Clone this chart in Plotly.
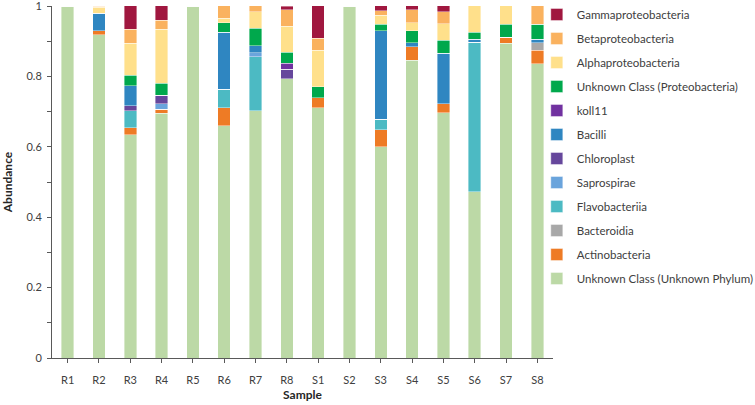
import plotly.graph_objects as go

samples = ["R1", "R2", "R3", "R4", "R5", "R6", "R7", "R8",
           "S1", "S2", "S3", "S4", "S5", "S6", "S7", "S8"]

# stacking order bottom -> top
unknown_phylum = [1.000, 0.918, 0.634, 0.695, 1.000, 0.660, 0.702, 0.793, 0.711, 1.000, 0.600, 0.846, 0.697, 0.472, 0.894, 0.836]
actinobacteria = [0, 0.012, 0.020, 0.012, 0, 0.051, 0, 0, 0.029, 0, 0.049, 0.038, 0.025, 0, 0.017, 0.039]
bacteroidia    = [0, 0, 0, 0, 0, 0, 0, 0, 0, 0, 0, 0, 0, 0, 0, 0.020]
flavobacteriia = [0, 0, 0.048, 0, 0, 0.052, 0.154, 0, 0, 0, 0.029, 0, 0, 0.425, 0, 0]
saprospirae    = [0, 0, 0, 0.015, 0, 0, 0.011, 0, 0, 0, 0, 0, 0, 0, 0, 0]
chloroplast    = [0, 0, 0.014, 0.024, 0, 0, 0, 0.027, 0, 0, 0, 0, 0, 0, 0, 0]
bacilli        = [0, 0.050, 0.057, 0, 0, 0.162, 0.020, 0, 0, 0, 0.251, 0.012, 0.144, 0.009, 0, 0.011]
koll11         = [0, 0, 0, 0, 0, 0, 0, 0.017, 0, 0, 0, 0, 0, 0, 0, 0]
unknown_proteo = [0, 0, 0.030, 0.035, 0, 0.027, 0.050, 0.031, 0.031, 0, 0.019, 0.033, 0.037, 0.019, 0.037, 0.042]
alpha          = [0, 0.017, 0.091, 0.153, 0, 0.013, 0.047, 0.075, 0.104, 0, 0.026, 0.023, 0.046, 0.077, 0.054, 0]
beta           = [0, 0.003, 0.040, 0.026, 0, 0.037, 0.017, 0.047, 0.033, 0, 0.012, 0.038, 0.035, 0, 0, 0.054]
gamma          = [0, 0, 0.068, 0.041, 0, 0, 0, 0.010, 0.093, 0, 0.015, 0.012, 0.018, 0, 0, 0]

y_ticks = [0, 0.2, 0.4, 0.6, 0.8, 1]
y_tick_labels = ["0", "0.2", "0.4", "0.6", "0.8", "1"]

series = [
    ("Unknown Class (Unknown Phylum)", unknown_phylum, "#bcd9a6"),
    ("Actinobacteria", actinobacteria, "#ee7b25"),
    ("Bacteroidia", bacteroidia, "#a8a8a8"),
    ("Flavobacteriia", flavobacteriia, "#4cbac3"),
    ("Saprospirae", saprospirae, "#6aa4dc"),
    ("Chloroplast", chloroplast, "#66479c"),
    ("Bacilli", bacilli, "#2f86c1"),
    ("koll11", koll11, "#7131a0"),
    ("Unknown Class (Proteobacteria)", unknown_proteo, "#00a84c"),
    ("Alphaproteobacteria", alpha, "#ffe08b"),
    ("Betaproteobacteria", beta, "#fab25f"),
    ("Gammaproteobacteria", gamma, "#a0173f"),
]

n = len(series)
fig = go.Figure()
for i, (name, vals, col) in enumerate(series):
    fig.add_trace(go.Bar(
        x=samples, y=vals, name=name, legendgroup=f"g{i}", legendrank=n - i,
        marker=dict(color=col, line=dict(color="rgba(255,255,255,0.5)", width=0.8)),
        width=0.4,
    ))

font_family = "Lato, 'Open Sans', sans-serif"
axis_col = "#595959"
fig.update_layout(
    barmode="stack",
    width=755, height=405,
    margin=dict(l=52, r=202, t=6, b=47, autoexpand=False),
    paper_bgcolor="white", plot_bgcolor="white",
    font=dict(family=font_family, size=11, color="#404040"),
    showlegend=True,
    legend=dict(
        traceorder="grouped", tracegroupgap=5,
        xref="container", yref="container",
        x=0.711, y=1.0, xanchor="left", yanchor="top",
        font=dict(size=11.5, color="#404040"),
        itemwidth=30, bgcolor="rgba(0,0,0,0)", maxheight=400,
    ),
)
fig.update_xaxes(
    type="category", showline=True, linecolor=axis_col, linewidth=1,
    ticks="outside", ticklen=4, tickcolor=axis_col, showgrid=False,
    automargin=False, ticklabelstandoff=8,
    title=dict(text="<b>Sample</b>", font=dict(size=12, color="#262626"), standoff=5),
    tickfont=dict(size=11, color="#404040"),
)
fig.update_yaxes(
    range=[0, 1], showline=True, linecolor=axis_col, linewidth=1,
    ticks="outside", ticklen=4, tickcolor=axis_col,
    tickmode="array", tickvals=y_ticks, ticktext=y_tick_labels,
    ticklabeloverflow="allow",
    minor=dict(dtick=0.1, tick0=0, ticks="outside", ticklen=4, tickcolor=axis_col),
    showgrid=False, zeroline=False, automargin=False, ticklabelstandoff=3,
    title=dict(text="<b>Abundance</b>", font=dict(size=12, color="#262626"), standoff=12),
    tickfont=dict(size=11, color="#404040"),
)

fig.write_html("out.html", config={"displayModeBar": False},
               post_script="document.body.style.margin='0';")
